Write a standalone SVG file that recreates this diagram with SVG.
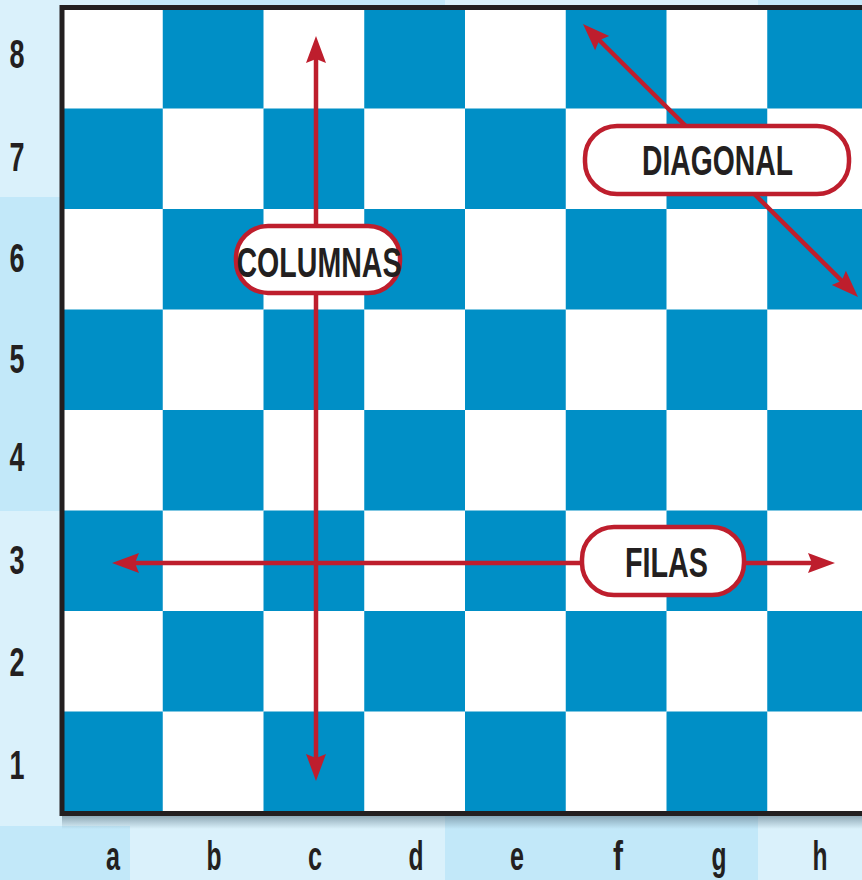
<svg xmlns="http://www.w3.org/2000/svg" width="862" height="880" viewBox="0 0 862 880">
<defs>
<style>
.lt{fill:#daf1fb}.dk{fill:#c2e8f9}
.sq{fill:#008fc6}
.lbl{font-family:"Liberation Sans",Arial,sans-serif;font-weight:bold;fill:#231f20;text-anchor:middle}
.coord{font-size:41px}
.file{font-size:40px}
.tag{font-size:42px}
.box{fill:#ffffff;stroke:#be1e2d;stroke-width:4.5}
.arr{stroke:#be1e2d;stroke-width:4.5;fill:none}
</style>
<marker id="ah" markerUnits="userSpaceOnUse" markerWidth="40" markerHeight="30" viewBox="-20 -15 40 30" refX="0" refY="0" orient="auto-start-reverse">
<path d="M12,0 L-15,-10 L-11,0 L-15,10 Z" fill="#be1e2d"/>
</marker>
<linearGradient id="sh" x1="0" y1="0" x2="0" y2="1">
<stop offset="0" stop-color="#5f7a8a" stop-opacity="0.6"/>
<stop offset="1" stop-color="#5f7a8a" stop-opacity="0"/>
</linearGradient>
</defs>
<g id="background">
<rect class="lt" x="0" y="0" width="862" height="880"/>
<rect class="dk" x="0" y="197" width="60" height="314"/>
<rect class="dk" x="0" y="826" width="130" height="54"/>
<rect class="dk" x="445" y="816" width="313" height="64"/>
<rect class="dk" x="130" y="0" width="315" height="8"/>
<rect class="dk" x="758" y="0" width="104" height="8"/>
<rect x="62" y="816" width="800" height="13" fill="url(#sh)"/>
</g>
<g id="board">
<rect x="62" y="8" width="800" height="804" fill="#ffffff"/>
<rect class="sq" x="162.75" y="8" width="100.75" height="100.5"/>
<rect class="sq" x="364.25" y="8" width="100.75" height="100.5"/>
<rect class="sq" x="565.75" y="8" width="100.75" height="100.5"/>
<rect class="sq" x="767.25" y="8" width="100.75" height="100.5"/>
<rect class="sq" x="62" y="108.5" width="100.75" height="100.5"/>
<rect class="sq" x="263.5" y="108.5" width="100.75" height="100.5"/>
<rect class="sq" x="465" y="108.5" width="100.75" height="100.5"/>
<rect class="sq" x="666.5" y="108.5" width="100.75" height="100.5"/>
<rect class="sq" x="162.75" y="209" width="100.75" height="100.5"/>
<rect class="sq" x="364.25" y="209" width="100.75" height="100.5"/>
<rect class="sq" x="565.75" y="209" width="100.75" height="100.5"/>
<rect class="sq" x="767.25" y="209" width="100.75" height="100.5"/>
<rect class="sq" x="62" y="309.5" width="100.75" height="100.5"/>
<rect class="sq" x="263.5" y="309.5" width="100.75" height="100.5"/>
<rect class="sq" x="465" y="309.5" width="100.75" height="100.5"/>
<rect class="sq" x="666.5" y="309.5" width="100.75" height="100.5"/>
<rect class="sq" x="162.75" y="410" width="100.75" height="100.5"/>
<rect class="sq" x="364.25" y="410" width="100.75" height="100.5"/>
<rect class="sq" x="565.75" y="410" width="100.75" height="100.5"/>
<rect class="sq" x="767.25" y="410" width="100.75" height="100.5"/>
<rect class="sq" x="62" y="510.5" width="100.75" height="100.5"/>
<rect class="sq" x="263.5" y="510.5" width="100.75" height="100.5"/>
<rect class="sq" x="465" y="510.5" width="100.75" height="100.5"/>
<rect class="sq" x="666.5" y="510.5" width="100.75" height="100.5"/>
<rect class="sq" x="162.75" y="611" width="100.75" height="100.5"/>
<rect class="sq" x="364.25" y="611" width="100.75" height="100.5"/>
<rect class="sq" x="565.75" y="611" width="100.75" height="100.5"/>
<rect class="sq" x="767.25" y="611" width="100.75" height="100.5"/>
<rect class="sq" x="62" y="711.5" width="100.75" height="100.5"/>
<rect class="sq" x="263.5" y="711.5" width="100.75" height="100.5"/>
<rect class="sq" x="465" y="711.5" width="100.75" height="100.5"/>
<rect class="sq" x="666.5" y="711.5" width="100.75" height="100.5"/>
<path d="M862,7.5 H62 V813.5 H862" fill="none" stroke="#231f20" stroke-width="5"/>
</g>
<g id="ranks">
<text class="lbl coord" x="17" y="68" textLength="15" lengthAdjust="spacingAndGlyphs">8</text>
<text class="lbl coord" x="17" y="171" textLength="15" lengthAdjust="spacingAndGlyphs">7</text>
<text class="lbl coord" x="17" y="272" textLength="15" lengthAdjust="spacingAndGlyphs">6</text>
<text class="lbl coord" x="17" y="373" textLength="15" lengthAdjust="spacingAndGlyphs">5</text>
<text class="lbl coord" x="17" y="471" textLength="15" lengthAdjust="spacingAndGlyphs">4</text>
<text class="lbl coord" x="17" y="574" textLength="15" lengthAdjust="spacingAndGlyphs">3</text>
<text class="lbl coord" x="17" y="676" textLength="15" lengthAdjust="spacingAndGlyphs">2</text>
<text class="lbl coord" x="17" y="779" textLength="15" lengthAdjust="spacingAndGlyphs">1</text>
</g>
<g id="files">
<text class="lbl file" x="113" y="870" textLength="14" lengthAdjust="spacingAndGlyphs">a</text>
<text class="lbl file" x="214" y="870" textLength="15" lengthAdjust="spacingAndGlyphs">b</text>
<text class="lbl file" x="315" y="870" textLength="14" lengthAdjust="spacingAndGlyphs">c</text>
<text class="lbl file" x="416" y="870" textLength="15" lengthAdjust="spacingAndGlyphs">d</text>
<text class="lbl file" x="517" y="870" textLength="14" lengthAdjust="spacingAndGlyphs">e</text>
<text class="lbl file" x="618" y="870" textLength="10" lengthAdjust="spacingAndGlyphs">f</text>
<text class="lbl file" x="719" y="870" textLength="15" lengthAdjust="spacingAndGlyphs">g</text>
<text class="lbl file" x="820" y="870" textLength="15" lengthAdjust="spacingAndGlyphs">h</text>
</g>
<g id="connectors">
<line class="arr" x1="316" y1="48" x2="316" y2="769" marker-start="url(#ah)" marker-end="url(#ah)"/>
<line class="arr" x1="124" y1="563" x2="823" y2="563" marker-start="url(#ah)" marker-end="url(#ah)"/>
<line class="arr" x1="591.5" y1="32.5" x2="849.5" y2="288.5" marker-start="url(#ah)" marker-end="url(#ah)"/>
</g>
<g id="columnas">
<rect class="box" x="236" y="226" width="164" height="67" rx="32"/>
<text class="lbl tag" x="319" y="277" textLength="165" lengthAdjust="spacingAndGlyphs">COLUMNAS</text>
</g>
<g id="filas">
<rect class="box" x="582" y="527" width="162" height="68" rx="32"/>
<text class="lbl tag" x="666.5" y="577" textLength="83" lengthAdjust="spacingAndGlyphs">FILAS</text>
</g>
<g id="diagonal">
<rect class="box" x="585" y="126" width="264" height="68" rx="32"/>
<text class="lbl tag" x="717.5" y="175" textLength="151" lengthAdjust="spacingAndGlyphs">DIAGONAL</text>
</g>
</svg>
